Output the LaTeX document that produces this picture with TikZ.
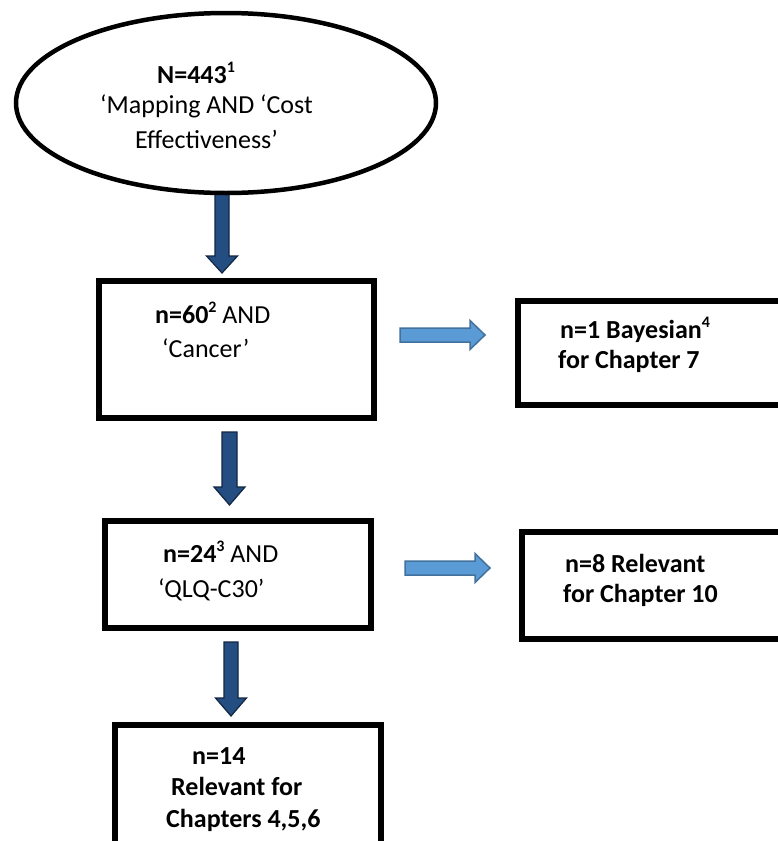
\documentclass[tikz,border=0pt]{standalone}
\usepackage{fontspec}
\setmainfont{Carlito}
\usetikzlibrary{calc}
\definecolor{darkfill}{RGB}{36,78,130}
\definecolor{darkline}{RGB}{18,38,64}
\definecolor{lightfill}{RGB}{91,155,213}
\definecolor{lightline}{RGB}{65,113,156}
\newcommand{\sups}[1]{\raisebox{0.42em}{\fontsize{16}{16}\selectfont #1}}
\newcommand{\downarr}[5]{%
  \filldraw[darkarr] ($(#1)+(-#3,0)$) -- ($(#1)+(#3,0)$) -- ($(#2)+(#3,-#5)$) -- ($(#2)+(#4,-#5)$) -- (#2) -- ($(#2)+(-#4,-#5)$) -- ($(#2)+(-#3,-#5)$) -- cycle;}
\newcommand{\rightarr}[5]{%
  \filldraw[lightarr] ($(#1)+(0,-#3)$) -- ($(#2)+(-#5,-#3)$) -- ($(#2)+(-#5,-#4)$) -- (#2) -- ($(#2)+(-#5,#4)$) -- ($(#2)+(-#5,#3)$) -- ($(#1)+(0,#3)$) -- cycle;}
\tikzset{
  darkarr/.style={fill=darkfill, draw=darkline, line width=1.2pt, line join=miter},
  lightarr/.style={fill=lightfill, draw=lightline, line width=1.5pt, line join=miter},
  box/.style={draw=black, line width=5.5pt, fill=white, rectangle, inner sep=0pt},
  txt/.style={anchor=base west, inner sep=0pt, font=\fontsize{26}{31}\selectfont},
  btxt/.style={txt, font=\fontsize{26}{31}\selectfont\bfseries},
}
\begin{document}
\begin{tikzpicture}[x=1pt,y=-1pt]
\useasboundingbox (0,0) rectangle (778,841);
\clip (0,0) rectangle (778,841);
\fill[white] (0,0) rectangle (778,841);

% arrows
\coordinate (a1s) at (222,192);
\coordinate (a1t) at (222,273);
\coordinate (a2s) at (229.5,432);
\coordinate (a2t) at (229.5,505);
\coordinate (a3s) at (231,642);
\coordinate (a3t) at (231,716);
\coordinate (r1s) at (400,335);
\coordinate (r1t) at (485,335);
\coordinate (r2s) at (405,568);
\coordinate (r2t) at (490,568);
\downarr{a1s}{a1t}{7}{15.5}{17}
\downarr{a2s}{a2t}{7.5}{15.5}{18}
\downarr{a3s}{a3t}{7}{15.5}{18}
\rightarr{r1s}{r1t}{7}{14.5}{15}
\rightarr{r2s}{r2t}{7}{14.5}{15}

% ellipse
\draw[line width=4.5pt, fill=white] (226,103) ellipse [x radius=210, y radius=90];
\coordinate (ell) at (226,103);

% boxes
\node[box, minimum width=275pt, minimum height=137pt] (b2) at (236.5,349.5) {};
\node[box, minimum width=266pt, minimum height=107pt] (b3) at (238,574.5) {};
\node[box, minimum width=266pt, minimum height=150pt] (b4) at (248,800) {};
\node[box, minimum width=290pt, minimum height=104pt] (r1) at (663,353) {};
\node[box, minimum width=290pt, minimum height=107pt] (r2) at (667,585.5) {};

% texts
\node[btxt] (t1a) at (157,83) {N=443\sups{1}};
\node[txt] (t1b) at (100,113) {‘Mapping AND ‘Cost};
\node[txt] (t1c) at (135,148) {Effectiveness’};

\node[txt] (t2a) at (155,323) {\textbf{n=60\sups{2}} AND};
\node[txt] (t2b) at (162,357) {‘Cancer’};

\node[txt] (t3a) at (163,562) {\textbf{n=24\sups{3}} AND};
\node[txt] (t3b) at (158,597) {‘QLQ-C30’};

\node[btxt] (t4a) at (192,764) {n=14};
\node[btxt] (t4b) at (171,795) {Relevant for};
\node[btxt] (t4c) at (166,827) {Chapters 4,5,6};

\node[btxt] (r1a) at (560,338) {n=1 Bayesian\sups{4}};
\node[btxt] (r1b) at (558,368) {for Chapter 7};

\node[btxt] (r2a) at (565,572) {n=8 Relevant};
\node[btxt] (r2b) at (563,602) {for Chapter 10};
\end{tikzpicture}
\end{document}
